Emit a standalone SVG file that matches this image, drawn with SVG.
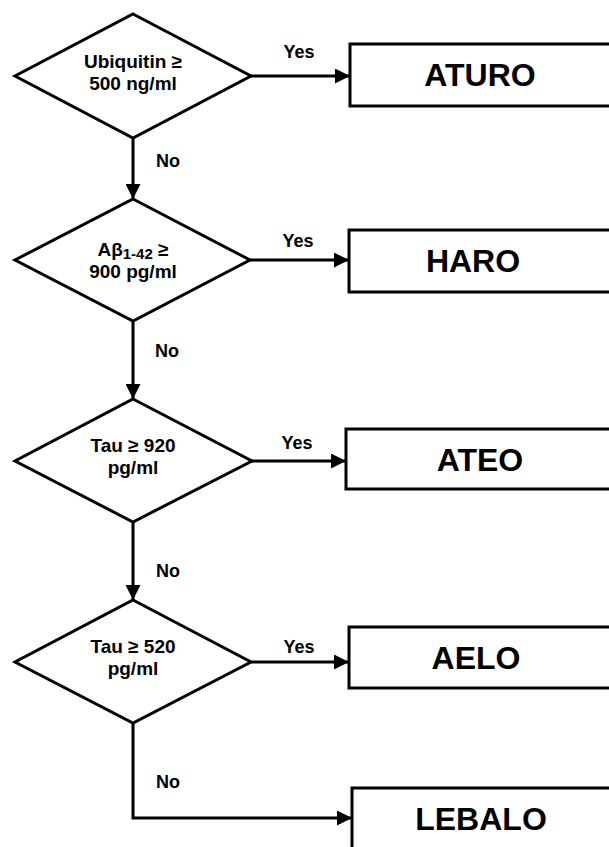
<svg xmlns="http://www.w3.org/2000/svg" width="609" height="847" viewBox="0 0 609 847">
<style>
  .shape { fill: #ffffff; stroke: #000000; stroke-width: 3; stroke-linejoin: miter; }
  .conn { fill: none; stroke: #000000; stroke-width: 3; }
  .dtext { font-family: "Liberation Sans", Arial, sans-serif; font-weight: bold; font-size: 19px; text-anchor: middle; fill: #000; }
  .btext { font-family: "Liberation Sans", Arial, sans-serif; font-weight: bold; font-size: 32px; text-anchor: middle; fill: #000; }
  .lbl { font-family: "Liberation Sans", Arial, sans-serif; font-weight: bold; font-size: 18px; text-anchor: middle; fill: #000; }
</style>
<defs>
  <marker id="arr" markerUnits="userSpaceOnUse" markerWidth="15" markerHeight="15" refX="15" refY="7.5" orient="auto">
    <path d="M0,0 L15,7.5 L0,15 z" fill="#000"/>
  </marker>
</defs>
<rect width="609" height="847" fill="#ffffff"/>

<g id="connectors">
  <path class="conn" d="M251,76 L350,76" marker-end="url(#arr)"/>
  <path class="conn" d="M133,138 L133,199" marker-end="url(#arr)"/>
  <path class="conn" d="M250,260 L349,260" marker-end="url(#arr)"/>
  <path class="conn" d="M133,321 L133,399" marker-end="url(#arr)"/>
  <path class="conn" d="M252,461 L346,461" marker-end="url(#arr)"/>
  <path class="conn" d="M133,522 L133,600" marker-end="url(#arr)"/>
  <path class="conn" d="M251,662 L349,662" marker-end="url(#arr)"/>
  <path class="conn" d="M133,723 L133,818 L352,818" marker-end="url(#arr)"/>
  <text class="lbl" x="299" y="58">Yes</text>
  <text class="lbl" x="168" y="167">No</text>
  <text class="lbl" x="298" y="247">Yes</text>
  <text class="lbl" x="167" y="357">No</text>
  <text class="lbl" x="297" y="449">Yes</text>
  <text class="lbl" x="168" y="577">No</text>
  <text class="lbl" x="299" y="653">Yes</text>
  <text class="lbl" x="168" y="788">No</text>
</g>

<g id="d1">
  <polygon class="shape" points="133,14 251,76 133,138 15,76"/>
  <text class="dtext" x="133" y="68">Ubiquitin ≥</text>
  <text class="dtext" x="133" y="90">500 ng/ml</text>
</g>
<g id="d2">
  <polygon class="shape" points="133,199 250,260 133,321 15,260"/>
  <text class="dtext" x="133" y="256">Aβ<tspan font-size="15" dy="3">1-42</tspan><tspan dy="-3"> ≥</tspan></text>
  <text class="dtext" x="133" y="278">900 pg/ml</text>
</g>
<g id="d3">
  <polygon class="shape" points="133,399 252,461 133,522 15,461"/>
  <text class="dtext" x="133" y="452">Tau ≥ 920</text>
  <text class="dtext" x="133" y="474">pg/ml</text>
</g>
<g id="d4">
  <polygon class="shape" points="133,600 251,662 133,723 15,662"/>
  <text class="dtext" x="133" y="653">Tau ≥ 520</text>
  <text class="dtext" x="133" y="675">pg/ml</text>
</g>

<g id="b1">
  <rect class="shape" x="350" y="44" width="270" height="62"/>
  <text class="btext" x="480" y="86">ATURO</text>
</g>
<g id="b2">
  <rect class="shape" x="349" y="230" width="270" height="62"/>
  <text class="btext" x="473" y="272">HARO</text>
</g>
<g id="b3">
  <rect class="shape" x="346" y="429" width="270" height="60"/>
  <text class="btext" x="480" y="471">ATEO</text>
</g>
<g id="b4">
  <rect class="shape" x="349" y="627" width="270" height="61"/>
  <text class="btext" x="476" y="669">AELO</text>
</g>
<g id="b5">
  <rect class="shape" x="352" y="788" width="270" height="70"/>
  <text class="btext" x="481" y="830">LEBALO</text>
</g>
</svg>
